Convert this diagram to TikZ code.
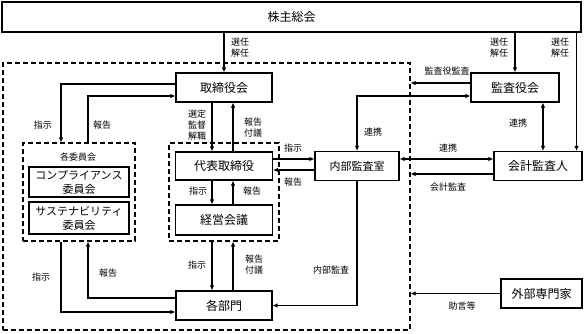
\documentclass[tikz,border=0pt]{standalone}
\usepackage{fontspec}
\newfontfamily\jp{Noto Sans CJK JP}
\usetikzlibrary{arrows.meta}
\begin{document}
\begin{tikzpicture}[x=1pt,y=-1pt,
 box/.style={draw, line width=1.1pt, inner sep=0pt, align=center, font=\jp\fontsize{12}{14}\selectfont},
 dbox/.style={draw, dash pattern=on 5pt off 3pt, line width=1.1pt, inner sep=0pt},
 lab/.style={font=\jp\fontsize{9}{11}\selectfont, align=center, inner sep=0pt},
 con/.style={line width=1.6pt, -{Latex[length=5pt,width=4.5pt]}},
 con2/.style={line width=1.6pt, {Latex[length=5pt,width=4.5pt]}-{Latex[length=5pt,width=4.5pt]}},
 conline/.style={line width=1.6pt}]
\useasboundingbox (0,0) rectangle (584,333);
% dashed groups
\node[dbox, minimum width=407pt, minimum height=267pt] (inner) at (206.5,196.5) {};
\node[dbox, minimum width=112pt, minimum height=98pt] (cm) at (79,192) {};
\node[dbox, minimum width=110pt, minimum height=98pt] (dg) at (224,192) {};
% boxes
\node[box, minimum width=579pt, minimum height=30pt] (sh) at (291.5,17) {株主総会};
\node[box, minimum width=96pt, minimum height=29pt] (tb) at (224,87.5) {取締役会};
\node[box, minimum width=88pt, minimum height=29pt] (ka) at (515,87.5) {監査役会};
\node[box, minimum width=97pt, minimum height=28pt] (dh) at (224,166) {代表取締役};
\node[box, minimum width=97pt, minimum height=30pt] (kk) at (224,220) {経営会議};
\node[box, minimum width=96pt, minimum height=29pt] (bu) at (224,305.5) {各部門};
\node[box, minimum width=84pt, minimum height=29pt, font=\jp\fontsize{11}{13}\selectfont] (nb) at (357,166) {内部監査室};
\node[box, minimum width=88pt, minimum height=29pt] (kj) at (538,166) {会計監査人};
\node[box, minimum width=81pt, minimum height=29pt] (ge) at (541.5,293.5) {外部専門家};
\node[box, minimum width=100pt, minimum height=30pt, font=\jp\fontsize{11}{14}\selectfont] (cc) at (79,182) {コンプライアンス\\委員会};
\node[box, minimum width=100pt, minimum height=32pt, font=\jp\fontsize{11}{14}\selectfont] (sc) at (79,218) {サステナビリティ\\委員会};
\node[lab] (cmt) at (78,157) {各委員会};
% connectors
\draw[con] (sh.south -| tb) -- (tb.north);
\draw[con] (sh.south -| ka) -- (ka.north);
\coordinate (r1) at ([xshift=-6pt]kj.north east);
\draw[con] (sh.south -| r1) -- (r1);
\draw[con] ([yshift=4.5pt]ka.west) -- ([yshift=4.5pt]ka.west -| inner.east);
\draw[con] ([yshift=3.5pt]tb.west) -| ([xshift=-18pt]cm.north);
\draw[con] ([xshift=9pt]cm.north) |- ([yshift=-8.5pt]tb.west);
\draw[con] ([xshift=-12pt]tb.south) -- ([xshift=-12pt]dh.north);
\draw[con] ([xshift=9pt]dh.north) -- ([xshift=9pt]tb.south);
\draw[con] ([xshift=-12pt]dh.south) -- ([xshift=-12pt]kk.north);
\draw[con] ([xshift=9pt]kk.north) -- ([xshift=9pt]dh.south);
\draw[con] ([yshift=7pt]dh.east) -- ([yshift=7pt]dh.east -| nb.west);
\draw[con] ([yshift=-4pt]nb.west) -- ([yshift=-4pt]nb.west -| dh.east);
\draw[con2] (nb.north) |- ([yshift=-8.5pt]ka.west);
\draw[con2] ([yshift=7pt]nb.east) -- ([yshift=7pt]kj.west);
\draw[con] ([yshift=-8pt]kj.west) -- ([yshift=-8pt]kj.west -| inner.east);
\coordinate (k1) at ([xshift=5pt]kj.north);
\draw[con2] (k1 |- ka.south) -- (k1);
\draw[con] (nb.south) |- (bu.east);
\draw[con] (ge.west) -- (ge.west -| inner.east);
\draw[con] ([xshift=-18pt]cm.south) |- ([yshift=-6.5pt]bu.west);
\draw[con] ([yshift=7.5pt]bu.west) -| ([xshift=9pt]cm.south);
\draw[con] ([xshift=-12pt]dg.south) -- ([xshift=-12pt]bu.north);
\draw[con] ([xshift=9pt]bu.north) -- ([xshift=9pt]dg.south);
% labels
\node[lab] (l1) at (240,48) {選任\\解任};
\node[lab] (l2) at (499,48) {選任\\解任};
\node[lab] (l3) at (560,48) {選任\\解任};
\node[lab] (l4) at (447,71) {監査役監査};
\node[lab] (l5) at (43,125) {指示};
\node[lab] (l6) at (102,125) {報告};
\node[lab] (l7) at (197,125.5) {選定\\監督\\解職};
\node[lab] (l8) at (253,127.5) {報告\\付議};
\node[lab] (l9) at (198,191) {指示};
\node[lab] (l10) at (252,191) {報告};
\node[lab] (l11) at (293,148) {指示};
\node[lab] (l12) at (293,182) {報告};
\node[lab] (l13) at (373,132) {連携};
\node[lab] (l14) at (448,148) {連携};
\node[lab] (l15) at (448,187) {会計監査};
\node[lab] (l16) at (518,123) {連携};
\node[lab] (l17) at (331,270) {内部監査};
\node[lab] (l18) at (462,306) {助言等};
\node[lab] (l19) at (41,277) {指示};
\node[lab] (l20) at (108,273) {報告};
\node[lab] (l21) at (197,265) {指示};
\node[lab] (l22) at (254,264.5) {報告\\付議};
\end{tikzpicture}
\end{document}
